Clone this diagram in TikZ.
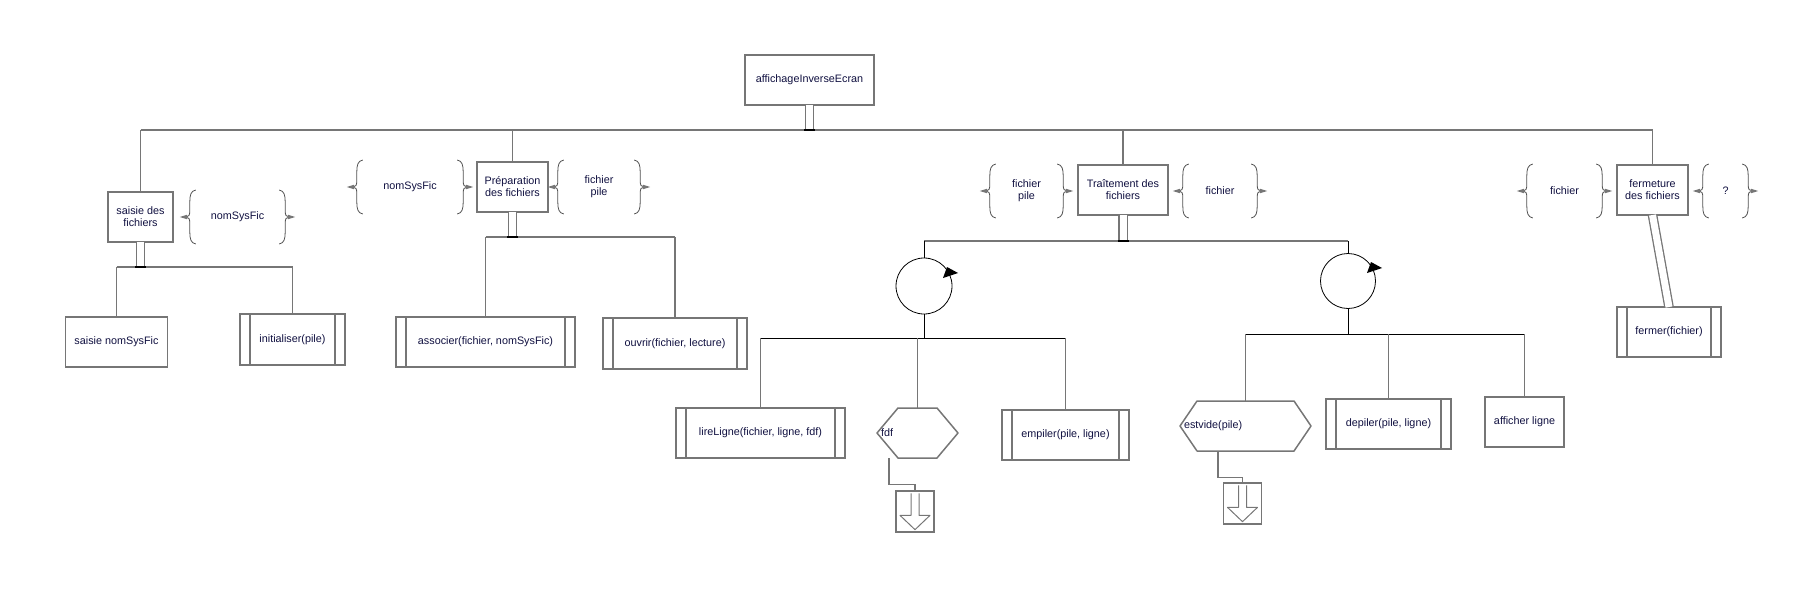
\documentclass[tikz,border=0pt]{standalone}
\usepackage{fontspec}
\setmainfont{Liberation Sans}
\usetikzlibrary{calc}

\definecolor{ligne}{RGB}{118,118,118}
\definecolor{texte}{RGB}{16,16,64}
\definecolor{accol}{RGB}{80,80,80}

\tikzset{
  every node/.style={font=\fontsize{10.8}{12}\selectfont, text=texte},
  box/.style={draw=ligne, line width=1.5pt, fill=white, minimum height=50pt, align=center, inner sep=2pt, outer sep=0pt},
  proc/.style={box},
  hexa/.style={minimum height=50pt, inner xsep=4pt, inner ysep=2pt, align=left, outer sep=0pt},
  param/.style={minimum height=52pt, inner sep=0pt, align=center},
  ln/.style={draw=ligne, line width=1.5pt},
  fin/.style={draw=black, line width=1pt},
  tube/.style={ligne, line width=1.3pt, double=white, double distance=7pt},
  lbr/.pic={
    \draw[accol, line width=0.8pt] (6,-27) .. controls (1,-26) and (0,-22) .. (0,-15) -- (0,-6)
      .. controls (0,-2) and (-1,0) .. (-4,0) .. controls (-1,0) and (0,2) .. (0,6) -- (0,15)
      .. controls (0,22) and (1,26) .. (6,27);
    \fill[ligne] (-10,0) -- (-3,-2.2) -- (-3,2.2) -- cycle;
  },
  rbr/.pic={
    \draw[accol, line width=0.8pt] (-6,-27) .. controls (-1,-26) and (0,-22) .. (0,-15) -- (0,-6)
      .. controls (0,-2) and (1,0) .. (4,0) .. controls (1,0) and (0,2) .. (0,6) -- (0,15)
      .. controls (0,22) and (-1,26) .. (-6,27);
    \fill[ligne] (10,0) -- (3,-2.2) -- (3,2.2) -- cycle;
  },
}

\begin{document}
\begin{tikzpicture}[x=1pt, y=-1pt]
  \useasboundingbox (0,0) rectangle (1804,589);

  % niveau 0 et 1
  \node[box, minimum width=129pt] (main) at (809.5,80) {affichageInverseEcran};
  \node[box, minimum width=65pt] (saisie) at (140.5,217) {saisie des\\fichiers};
  \node[box, minimum width=71pt] (prep) at (512.5,187) {Préparation\\des fichiers};
  \node[box, minimum width=90pt] (trait) at (1123,190) {Traîtement des\\fichiers};
  \node[box, minimum width=71pt] (ferme) at (1652.5,190) {fermeture\\des fichiers};

  % parametres
  \node[param, minimum width=95pt] (pSai) at (237.5,217) {nomSysFic};
  \node[param, minimum width=106pt] (pPrepE) at (410,187) {nomSysFic};
  \node[param, minimum width=82pt] (pPrepS) at (599,187) {fichier\\pile};
  \node[param, minimum width=73pt] (pTraitE) at (1026.5,191) {fichier\\pile};
  \node[param, minimum width=74pt] (pTraitS) at (1220,191) {fichier};
  \node[param, minimum width=75pt] (pFermE) at (1564.5,191) {fichier};
  \node[param, minimum width=45pt] (pFermS) at (1725.5,191) {?};
  \foreach \p in {pSai,pPrepE,pPrepS,pTraitE,pTraitS,pFermE,pFermS} {
    \pic at (\p.west) {lbr};
    \pic at (\p.east) {rbr};
  }

  % feuilles
  \node[box, minimum width=102pt] (saiNom) at (116.5,342) {saisie nomSysFic};
  \node[proc, minimum width=105pt, minimum height=51pt] (init) at (292.5,339.5) {initialiser(pile)};
  \node[proc, minimum width=179pt] (asso) at (485.5,342) {associer(fichier, nomSysFic)};
  \node[proc, minimum width=144pt, minimum height=51pt] (ouv) at (675,343.5) {ouvrir(fichier, lecture)};
  \node[proc, minimum width=169pt] (lire) at (760.5,433) {lireLigne(fichier, ligne, fdf)};
  \node[hexa, minimum width=81pt, text width=73pt] (fdf) at (917.5,433) {fdf};
  \node[proc, minimum width=127pt] (emp) at (1065.5,435) {empiler(pile, ligne)};
  \node[hexa, minimum width=131pt, text width=123pt] (vide) at (1245.5,426) {estvide(pile)};
  \node[proc, minimum width=125pt] (dep) at (1388.5,424) {depiler(pile, ligne)};
  \node[box, minimum width=79pt] (aff) at (1524.5,422) {afficher ligne};
  \node[proc, minimum width=104pt] (fermer) at (1669,332) {fermer(fichier)};

  \foreach \n in {init,asso,ouv,lire,emp,dep,fermer} {
    \draw[ln] ($(\n.north west)+(10,0)$) -- ($(\n.south west)+(10,0)$);
    \draw[ln] ($(\n.north east)+(-10,0)$) -- ($(\n.south east)+(-10,0)$);
  }
  \foreach \n/\d in {fdf/21,vide/17}
    \draw[ln, line join=round] (\n.west) -- ($(\n.north west)+(\d,0)$) -- ($(\n.north east)+(-\d,0)$)
      -- (\n.east) -- ($(\n.south east)+(-\d,0)$) -- ($(\n.south west)+(\d,0)$) -- cycle;

  % boucles et sorties
  \node[circle, draw=black, line width=0.8pt, minimum size=56pt, inner sep=0pt] (boucle1) at (924,286) {};
  \node[circle, draw=black, line width=0.8pt, minimum size=55pt, inner sep=0pt] (boucle2) at (1348,281) {};
  \foreach \b in {boucle1,boucle2}
    \fill (\b.center) ++(34,-13) -- ++(-15,5) -- ++(4,-11) -- cycle;
  \node[draw=ligne, line width=1.3pt, minimum width=38pt, minimum height=41pt, inner sep=0pt] (sortie1) at (915,511.5) {};
  \node[draw=ligne, line width=1.3pt, minimum width=38pt, minimum height=41pt, inner sep=0pt] (sortie2) at (1242.5,503.5) {};
  \foreach \s in {sortie1,sortie2}
    \draw[ligne, line width=1pt, line join=round] ($(\s.north)+(-4,3)$) -- ++(0,22) -- ++(-11,0) -- ($(\s.south)+(0,-3)$)
      -- ($(\s.north)+(15,25)$) -- ++(-11,0) -- ++(0,-22);

  % connexions
  \coordinate (bus0) at (809.5,130);
  \coordinate (busS) at (0,267);
  \coordinate (busP) at (0,237);
  \coordinate (busT) at (0,241);
  \coordinate (busB1) at (0,338);
  \coordinate (busB2) at (0,334);

  \draw[ln] (saisie.north |- bus0) -- (ferme.north |- bus0);
  \foreach \n in {saisie,prep,trait,ferme}
    \draw[ln] (\n.north |- bus0) -- (\n.north);

  \draw[ln] (saiNom.north |- busS) -- (init.north |- busS);
  \foreach \n in {saiNom,init}
    \draw[ln] (\n.north |- busS) -- (\n.north);

  \draw[ln] (asso.north |- busP) -- (ouv.north |- busP);
  \foreach \n in {asso,ouv}
    \draw[ln] (\n.north |- busP) -- (\n.north);

  \draw[ln] (boucle1.north |- busT) -- (boucle2.north |- busT);
  \foreach \b in {boucle1,boucle2}
    \draw[fin] (\b.north |- busT) -- (\b.north);

  \draw[fin] (boucle1.south) -- (boucle1.south |- busB1);
  \draw[fin] (lire.north |- busB1) -- (emp.north |- busB1);
  \foreach \n in {lire,fdf,emp}
    \draw[ln] (\n.north |- busB1) -- (\n.north);

  \draw[fin] (boucle2.south) -- (boucle2.south |- busB2);
  \draw[fin] (vide.north |- busB2) -- (aff.north |- busB2);
  \foreach \n in {vide,dep,aff}
    \draw[ln] (\n.north |- busB2) -- (\n.north);

  \draw[ln, line width=1.2pt] ($(fdf.south)+(-28.5,0)$) |- ($(sortie1.north)+(0,-6)$) -- (sortie1.north);
  \draw[ln, line width=1.2pt] ($(vide.south)+(-27.5,0)$) |- ($(sortie2.north)+(0,-5)$) -- (sortie2.north);

  % liaisons doubles
  \foreach \n/\b in {main/bus0,saisie/busS,prep/busP,trait/busT} {
    \draw[tube] (\n.south) -- (\n.south |- \b);
    \draw[black, line width=2pt] ($(\n.south |- \b)+(-5.5,0)$) -- ++(11,0);
  }
  \draw[tube] (ferme.south) -- (fermer.north);
\end{tikzpicture}
\end{document}
